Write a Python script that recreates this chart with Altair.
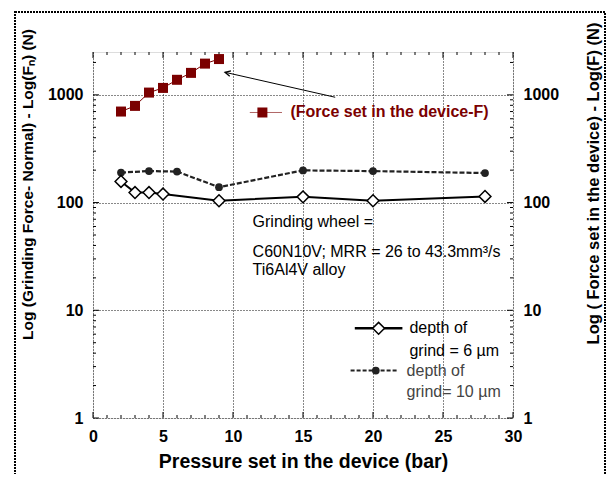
import altair as alt
import pandas as pd

# ---- data ----
x_force = [2, 3, 4, 5, 6, 7, 8, 9]
f_force = [700, 790, 1050, 1160, 1380, 1600, 1950, 2150]

x_d6 = [2, 3, 4, 5, 9, 15, 20, 28]
f_d6 = [157, 124, 124, 120, 104, 113, 104, 114]

x_d10 = [2, 4, 6, 9, 15, 20, 28]
f_d10 = [190, 196, 194, 139, 199, 196, 188]

x_tick_vals = [0, 5, 10, 15, 20, 25, 30]
y_tick_vals = [1, 10, 100, 1000]
x_minor = [v for v in range(1, 30) if v % 5 != 0]
y_minor = [m * d for d in (1, 10, 100) for m in range(2, 10)] + [2000]

note_lines = ["Grinding wheel =", "C60N10V; MRR = 26 to 43.3mm\u00b3/s", "Ti6Al4V alloy"]
note_x = [11.4, 11.4, 11.4]
note_y = [66, 34.6, 23.6]

leg6_text = ["depth of", "grind = 6 \u00b5m"]
leg6_ty = [6.8, 4.23]
leg10_text = ["depth of", "grind= 10 \u00b5m"]
leg10_ty = [2.76, 1.76]
force_label = "(Force set in the device-F)"

W, H = 420, 366
FONT = "Liberation Sans"
DARKRED = "#7b0000"
xs = alt.Scale(domain=[0, 30], nice=False, zero=False)
ys = alt.Scale(type="log", domain=[1, 2500], nice=False)

df_force = pd.DataFrame({"x": x_force, "y": f_force})
df6 = pd.DataFrame({"x": x_d6, "y": f_d6})
df10 = pd.DataFrame({"x": x_d10, "y": f_d10})

x_axis = alt.Axis(
    values=x_tick_vals, ticks=False, domain=False, labelPadding=10, labelFlush=False,
    labelFont=FONT, labelFontSize=16, labelFontWeight="bold", labelColor="black",
    grid=True, gridColor="#111", gridDash=[1, 2], gridWidth=1,
    title="Pressure set in the device (bar)",
    titleFont=FONT, titleFontSize=19.5, titleFontWeight="bold", titleColor="black",
    titlePadding=8,
)
left_axis = alt.Axis(
    values=y_tick_vals, format="d", ticks=False, domain=False, labelPadding=10, labelFlush=False,
    labelFont=FONT, labelFontSize=16, labelFontWeight="bold", labelColor="black",
    grid=True, gridColor="#111", gridDash=[1, 2], gridWidth=1,
    title="Log (Grinding Force- Normal) - Log(F\u2099) (N)",
    titleFont=FONT, titleFontSize=15.5, titleFontWeight="bold", titleColor="black",
    titleAngle=270, titleX=-66, titleY=132, titleAlign="center", titleBaseline="middle",
)
right_axis = alt.Axis(
    orient="right", values=y_tick_vals, format="d", ticks=False, domain=False, labelPadding=10,
    labelFlush=False,
    labelFont=FONT, labelFontSize=16, labelFontWeight="bold", labelColor="black",
    grid=False,
    title="Log ( Force set in the device) - Log(F) (N)",
    titleFont=FONT, titleFontSize=16.5, titleFontWeight="bold", titleColor="black",
    titleAngle=270, titleX=80, titleY=131, titleAlign="center", titleBaseline="middle",
)

X = lambda f="x:Q": alt.X(f, scale=xs, axis=x_axis)
Y = lambda f="y:Q": alt.Y(f, scale=ys, axis=None)

# grinding force series (left axis)
line6 = alt.Chart(df6).mark_line(color="black", strokeWidth=2).encode(
    x=X(), y=alt.Y("y:Q", scale=ys, axis=left_axis))
pts6 = alt.Chart(df6).mark_point(shape="diamond", size=140, filled=True, fill="white",
                                 stroke="black", strokeWidth=1.5, opacity=1).encode(x=X(), y=Y())
line10 = alt.Chart(df10).mark_line(color="#222", strokeWidth=2.2, strokeDash=[5, 2]).encode(x=X(), y=Y())
pts10 = alt.Chart(df10).mark_point(shape="circle", size=60, filled=True, color="#222", opacity=1).encode(x=X(), y=Y())

# force set in the device (right axis)
lineF = alt.Chart(df_force).mark_line(color=DARKRED, strokeWidth=1).encode(
    x=X(), y=alt.Y("y:Q", scale=ys, axis=right_axis))
ptsF = alt.Chart(df_force).mark_point(shape="square", size=100, filled=True, color=DARKRED, opacity=1).encode(x=X(), y=Y())

# inner ticks
def tick_layer(vals, axis, side, length):
    d = pd.DataFrame({"v": vals})
    if axis == "x":
        y0 = 0 if side == "top" else H
        y1 = length if side == "top" else H - length
        return alt.Chart(d).mark_rule(color="black", strokeWidth=1).encode(
            x=X("v:Q"), y=alt.value(y0), y2=alt.value(y1))
    x0 = 0 if side == "left" else W
    x1 = length if side == "left" else W - length
    return alt.Chart(d).mark_rule(color="black", strokeWidth=1).encode(
        y=Y("v:Q"), x=alt.value(x0), x2=alt.value(x1))

ticks = [
    tick_layer(x_tick_vals, "x", "bottom", 6), tick_layer(x_minor, "x", "bottom", 3),
    tick_layer(x_tick_vals, "x", "top", 6), tick_layer(x_minor, "x", "top", 3),
    tick_layer(y_tick_vals, "y", "left", 6), tick_layer(y_minor, "y", "left", 3),
    tick_layer(y_tick_vals, "y", "right", 6), tick_layer(y_minor, "y", "right", 3),
]

# annotation text
notes = alt.Chart(pd.DataFrame({"x": note_x, "y": note_y, "t": note_lines})).mark_text(
    align="left", baseline="middle", font=FONT, fontSize=16, color="black").encode(
    x=X(), y=Y(), text="t:N")

# arrow to force series
arrow_df = pd.DataFrame({"x": [17.3], "y": [950], "x2": [9.43], "y2": [1620]})
arrow = alt.Chart(arrow_df).mark_rule(color="black", strokeWidth=1).encode(
    x=X(), y=Y(), x2="x2:Q", y2="y2:Q")
head = alt.Chart(arrow_df).mark_point(shape="M-1,-0.5L0,0L-1,0.5", size=120, angle=193,
                                      filled=False, stroke="black", strokeWidth=1.3, opacity=1).encode(
    x=X("x2:Q"), y=Y("y2:Q"))

# legend: force
legF_line = alt.Chart(pd.DataFrame({"x": [11.2, 13.5], "y": [686, 686]})).mark_line(
    color=DARKRED, strokeWidth=1, opacity=0.6).encode(x=X(), y=Y())
legF_pt = alt.Chart(pd.DataFrame({"x": [12.1], "y": [686]})).mark_point(
    shape="square", size=100, filled=True, color=DARKRED, opacity=1).encode(x=X(), y=Y())
legF_txt = alt.Chart(pd.DataFrame({"x": [14.1], "y": [686], "t": [force_label]})).mark_text(
    align="left", baseline="middle", font=FONT, fontSize=16, fontWeight="bold", color=DARKRED).encode(
    x=X(), y=Y(), text="t:N")

# legend: depth of grind
leg6_line = alt.Chart(pd.DataFrame({"x": [18.7, 22.1], "y": [6.8, 6.8]})).mark_line(
    color="black", strokeWidth=2.5).encode(x=X(), y=Y())
leg6_pt = alt.Chart(pd.DataFrame({"x": [20.4], "y": [6.8]})).mark_point(
    shape="diamond", size=140, filled=True, fill="white", stroke="black", strokeWidth=1.5, opacity=1).encode(x=X(), y=Y())
leg6_txt = alt.Chart(pd.DataFrame({"x": [22.6, 22.6], "y": leg6_ty, "t": leg6_text})).mark_text(
    align="left", baseline="middle", font=FONT, fontSize=16, color="black").encode(x=X(), y=Y(), text="t:N")
leg10_line = alt.Chart(pd.DataFrame({"x": [18.4, 21.8], "y": [2.76, 2.76]})).mark_line(
    color="#222", strokeWidth=2, strokeDash=[4, 2]).encode(x=X(), y=Y())
leg10_pt = alt.Chart(pd.DataFrame({"x": [20.2], "y": [2.76]})).mark_point(
    shape="circle", size=60, filled=True, color="#222", opacity=1).encode(x=X(), y=Y())
leg10_txt = alt.Chart(pd.DataFrame({"x": [22.4, 22.4], "y": leg10_ty, "t": leg10_text})).mark_text(
    align="left", baseline="middle", font=FONT, fontSize=16, color="#444").encode(x=X(), y=Y(), text="t:N")

# outer dotted frame
frame = alt.Chart(pd.DataFrame({"a": [0]})).mark_rect(
    fill=None, stroke="black", strokeWidth=2, strokeDash=[2, 1]).encode(
    x=alt.value(-78), x2=alt.value(512), y=alt.value(-40), y2=alt.value(440))

chart = alt.layer(
    line6, lineF, *ticks, line10, pts10, pts6, ptsF, notes, arrow, head,
    legF_line, legF_pt, legF_txt, leg6_line, leg6_pt, leg6_txt, leg10_line, leg10_pt, leg10_txt, frame,
).resolve_scale(y="shared", x="shared").resolve_axis(y="independent").properties(
    width=W, height=H,
    autosize=alt.AutoSizeParams(type="none"),
    padding={"left": 85, "top": 44, "right": 93, "bottom": 56},
).configure_view(stroke="black", strokeWidth=1.5).configure(background="white")

chart.save("out.html", embed_options={"renderer": "svg", "actions": False})
